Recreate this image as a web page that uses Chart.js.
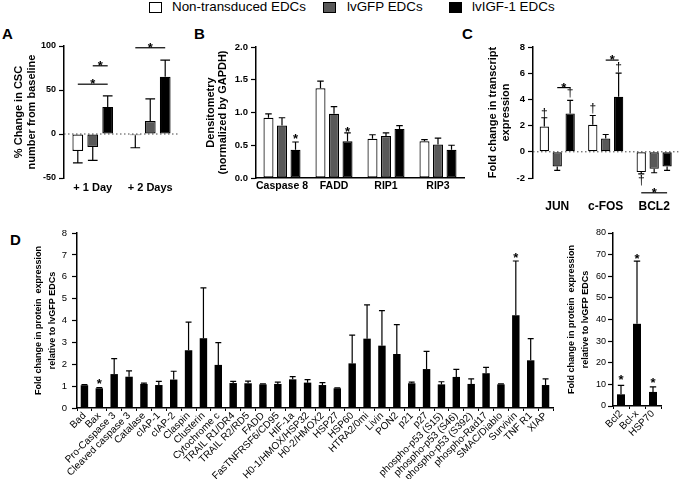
<!DOCTYPE html>
<html>
<head>
<meta charset="utf-8">
<script src="https://cdn.jsdelivr.net/npm/chart.js@4.4.0/dist/chart.umd.min.js"></script>
<style>
  body { margin: 0; background: #fff; }
  #fig { position: relative; width: 691px; height: 479px; overflow: hidden; font-family: "Liberation Sans", Arial, sans-serif; color: #000; }
  #fig canvas { position: absolute; }
  .sw { position: absolute; top: 2px; width: 11px; height: 9px; border: 1px solid #000; }
  .lt { position: absolute; top: 0; font-size: 13.4px; line-height: 14px; white-space: nowrap; }
  .letter { position: absolute; font-size: 15px; line-height: 15px; font-weight: bold; }
</style>
</head>
<body>
<div id="fig">
  <div class="sw" style="left:149px;background:#fff"></div><div class="lt" style="left:172px">Non-transduced EDCs</div>
  <div class="sw" style="left:323px;background:#595959"></div><div class="lt" style="left:347px">lvGFP EDCs</div>
  <div class="sw" style="left:449px;background:#000"></div><div class="lt" style="left:472px">lvIGF-1 EDCs</div>

  <div class="letter" style="left:2px;top:26px">A</div>
  <div class="letter" style="left:194px;top:26px">B</div>
  <div class="letter" style="left:462px;top:26px">C</div>
  <div class="letter" style="left:10px;top:232px">D</div>

  <canvas id="chartA" width="190" height="168" style="left:0;top:30px"></canvas>
  <canvas id="chartB" width="280" height="168" style="left:195px;top:30px"></canvas>
  <canvas id="chartC" width="221" height="190" style="left:470px;top:30px"></canvas>
  <canvas id="chartD" width="560" height="264" style="left:0;top:215px"></canvas>
  <canvas id="chartDR" width="131" height="264" style="left:560px;top:215px"></canvas>
</div>
<script>
// ---- A: % change in CSC number
const catsA = ['+ 1 Day', '+ 2 Days'];
const nonA = [-19.4, -1.5];
const nonAErr = [13.3, 14.1];
const gfpA = [-14.8, 14.8];
const gfpAErr = [15.2, 25.2];
const igfA = [30.8, 65];
const igfAErr = [12.5, 19];
const bracketsA = [[0, 0, 2, 0, 56.6], [1, 0, 2, 0, 77.5], [0, 1, 2, 1, 98]];

// ---- B: densitometry
const catsB = ['Caspase 8', 'FADD', 'RIP1', 'RIP3'];
const nonB = [0.92, 1.37, 0.60, 0.56];
const nonBErr = [0.06, 0.11, 0.06, 0.025];
const gfpB = [0.80, 0.98, 0.64, 0.51];
const gfpBErr = [0.12, 0.11, 0.05, 0.10];
const igfB = [0.43, 0.56, 0.75, 0.43];
const igfBErr = [0.12, 0.13, 0.05, 0.07];
const starsB = [[2, 0, 0.64], [2, 1, 0.75]];

// ---- C: transcript fold change
const catsC = ['JUN', 'c-FOS', 'BCL2'];
const nonC = [1.93, 2.06, -1.55];
const nonCErr = [0.67, 0.71, 0.13];
const gfpC = [-1.12, 1.02, -1.3];
const gfpCErr = [0.3, 0.3, 0.3];
const igfC = [2.93, 4.2, -1.12];
const igfCErr = [1.0, 1.8, 0.3];
const daggersC = [[0, 0, 2.9], [2, 0, 4.5], [0, 1, 3.35], [2, 1, 6.45], [0, 2, -2.2]];
const bracketsC = [[1, 0, 2, 0, 4.9], [1, 1, 2, 1, 7.0], [0, 2, 2, 2, -3.13]];

// ---- D: protein array
const catsD = ['Bad', 'Bax', 'Pro-Caspase 3', 'Cleaved caspase 3', 'Catalase', 'cIAP-1', 'cIAP-2', 'Claspin',
  'Clusterin', 'Cytochrome c', 'TRAIL R1/DR4', 'TRAIL R2/RD5', 'FADD', 'FasTNFRSF6/CD95', 'HIF-1a',
  'H0-1/HMOX/HSP32', 'H0-2/HMOX2', 'HSP27', 'HSP60', 'HTRA2/0mi', 'Livin', 'PON2', 'p21', 'p27',
  'phospho-p53 (S15)', 'phospho-p53 (S46)', 'phospho-p53 (S392)', 'phospho-Rad17', 'SMAC/Diablo',
  'Survivin', 'TNF R1', 'XIAP'];
const valsD = [1.04, 0.9, 1.55, 1.43, 1.1, 1.05, 1.3, 2.64, 3.19, 1.97, 1.14, 1.13, 1.08, 1.1, 1.31,
  1.16, 1.05, 0.9, 2.04, 3.17, 2.85, 2.47, 1.13, 1.78, 1.08, 1.42, 1.1, 1.59, 1.08, 4.24, 2.18, 1.05];
const errsD = [0.03, 0.03, 0.71, 0.27, 0.04, 0.17, 0.38, 1.29, 2.3, 1.02, 0.08, 0.1, 0.02, 0.08, 0.12,
  0.14, 0.11, 0.02, 1.29, 1.54, 1.6, 1.34, 0.05, 0.81, 0.12, 0.35, 0.23, 0.27, 0.02, 2.48, 0.99, 0.28];
const starsD = [[0, 1, 1.27], [0, 29, 7.0]];

const catsDR = ['Bcl2', 'Bcl-x', 'HSP70'];
const valsDR = [5.4, 38, 6.5];
const errsDR = [4.1, 29, 2.3];
const starsDR = [[0, 0, 13.4], [0, 1, 69.5], [0, 2, 12.2]];

const FONT = '"Liberation Sans", Arial, sans-serif';
Chart.defaults.font.family = FONT;
Chart.defaults.color = '#000';

// error bars, dotted zero line, stars / daggers and significance brackets
function extras(o) {
  return {
    id: 'extras',
    beforeDatasetsDraw(chart) {
      if (!o.zero) return;
      const ctx = chart.ctx, a = chart.chartArea;
      const py = chart.scales.y.getPixelForValue(0);
      ctx.save();
      ctx.strokeStyle = '#444';
      ctx.lineWidth = 1;
      ctx.setLineDash([1.5, 2.5]);
      ctx.beginPath();
      ctx.moveTo(a.left, py);
      ctx.lineTo(a.right, py);
      ctx.stroke();
      ctx.restore();
    },
    afterDatasetsDraw(chart) {
      const ctx = chart.ctx, y = chart.scales.y;
      const bar = (d, i) => chart.getDatasetMeta(d).data[i];
      ctx.save();
      ctx.strokeStyle = '#000';
      ctx.fillStyle = '#000';
      ctx.lineWidth = 1.2;
      chart.data.datasets.forEach((ds, d) => {
        if (!ds.errors) return;
        ds.data.forEach((v, i) => {
          const b = bar(d, i), e = ds.errors[i];
          const y0 = y.getPixelForValue(v);
          const y1 = y.getPixelForValue(v < 0 ? v - e : v + e);
          const h = b.width * o.cap / 2;
          ctx.beginPath();
          ctx.moveTo(b.x, y0);
          ctx.lineTo(b.x, y1);
          ctx.moveTo(b.x - h, y1);
          ctx.lineTo(b.x + h, y1);
          ctx.stroke();
        });
      });
      const s = o.starSize || 13;
      ctx.textAlign = 'center';
      ctx.textBaseline = 'alphabetic';
      (o.stars || []).forEach(([d, i, v]) => {
        ctx.font = 'bold ' + s + 'px ' + FONT;
        ctx.fillText('*', bar(d, i).x, y.getPixelForValue(v) + 0.57 * s);
      });
      (o.daggers || []).forEach(([d, i, v]) => {
        ctx.font = '12px ' + FONT;
        ctx.fillText('\u2020', bar(d, i).x, y.getPixelForValue(v) + 0.3 * 12);
      });
      (o.brackets || []).forEach(([d0, i0, d1, i1, v]) => {
        const x0 = bar(d0, i0).x, x1 = bar(d1, i1).x, py = y.getPixelForValue(v);
        ctx.beginPath();
        ctx.moveTo(x0, py);
        ctx.lineTo(x1, py);
        ctx.stroke();
        ctx.font = 'bold ' + s + 'px ' + FONT;
        ctx.fillText('*', (x0 + x1) / 2, py - 1.5 + 0.42 * s);
      });
      ctx.restore();
    }
  };
}

function groupSets(non, nonErr, gfp, gfpErr, igf, igfErr) {
  return [
    { label: 'Non-transduced EDCs', data: non, errors: nonErr, backgroundColor: '#fff', borderColor: '#000', borderWidth: 1.2, borderSkipped: false },
    { label: 'lvGFP EDCs', data: gfp, errors: gfpErr, backgroundColor: '#595959', borderColor: '#000', borderWidth: 1.2, borderSkipped: false },
    { label: 'lvIGF-1 EDCs', data: igf, errors: igfErr, backgroundColor: '#000', borderColor: '#000', borderWidth: 1.2, borderSkipped: false }
  ];
}

function yAxis(min, max, step, width, title, tFont, tPad, tickFont, tickPad, fmt) {
  return {
    min: min, max: max,
    ticks: { stepSize: step, font: tickFont, padding: tickPad, callback: fmt || (v => v) },
    grid: { drawOnChartArea: false, tickLength: 5, color: '#000', tickWidth: 1.2 },
    border: { color: '#000', width: 1.5 },
    title: { display: true, text: title, font: tFont, padding: { top: tPad, bottom: 0 } },
    afterFit: s => { s.width = width; }
  };
}

function xAxis(height, showLine, font, pad, rot) {
  return {
    grid: { display: false, drawTicks: false },
    border: { display: showLine, color: '#000', width: 1.5 },
    ticks: { font: font, padding: pad, autoSkip: false, minRotation: rot || 0, maxRotation: rot || 0 },
    afterFit: s => { s.height = height; }
  };
}

// x axis with small ticks between categories (panel D)
function xAxisTicked(height, font, pad) {
  const ax = xAxis(height, true, font, pad, 45);
  ax.grid = { display: true, drawOnChartArea: false, drawTicks: true, tickLength: 3, offset: true, color: '#000', tickWidth: 1 };
  return ax;
}

const noPlugins = { legend: { display: false }, tooltip: { enabled: false } };

new Chart(document.getElementById('chartA'), {
  type: 'bar',
  data: { labels: catsA, datasets: groupSets(nonA, nonAErr, gfpA, gfpAErr, igfA, igfAErr) },
  options: {
    responsive: false, animation: false,
    layout: { padding: { top: 16, left: 0, right: 11, bottom: 0 } },
    datasets: { bar: { categoryPercentage: 0.78, barPercentage: 0.72 } },
    plugins: noPlugins,
    scales: {
      x: xAxis(20, false, { size: 11, weight: 'bold' }, 3),
      y: yAxis(-50, 100, 50, 64, ['% Change in CSC', 'number from baseline'],
        { size: 11, weight: 'bold', lineHeight: 1.14 }, 12.7, { size: 9, weight: 'bold' }, 3)
    }
  },
  plugins: [extras({ zero: true, cap: 0.9, brackets: bracketsA })]
});

new Chart(document.getElementById('chartB'), {
  type: 'bar',
  data: { labels: catsB, datasets: groupSets(nonB, nonBErr, gfpB, gfpBErr, igfB, igfBErr) },
  options: {
    responsive: false, animation: false,
    layout: { padding: { top: 17, left: 0, right: 11, bottom: 0 } },
    datasets: { bar: { categoryPercentage: 0.78, barPercentage: 0.74 } },
    plugins: noPlugins,
    scales: {
      x: xAxis(20, true, { size: 10.5, weight: 'bold' }, 2),
      y: yAxis(0, 2, 0.5, 61, ['Densitometry', '(normalized by GAPDH)'],
        { size: 11, weight: 'bold', lineHeight: 1.1 }, 10, { size: 9.5, weight: 'bold' }, 3, v => v.toFixed(1))
    }
  },
  plugins: [extras({ cap: 0.65, stars: starsB })]
});

new Chart(document.getElementById('chartC'), {
  type: 'bar',
  data: { labels: catsC, datasets: groupSets(nonC, nonCErr, gfpC, gfpCErr, igfC, igfCErr) },
  options: {
    responsive: false, animation: false,
    layout: { padding: { top: 17, left: 0, right: 1, bottom: 0 } },
    datasets: { bar: { categoryPercentage: 0.8, barPercentage: 0.72 } },
    plugins: noPlugins,
    scales: {
      x: xAxis(42, false, { size: 12, weight: 'bold' }, 21),
      y: yAxis(-2, 8, 2, 63, ['Fold change in transcript', 'expression'],
        { size: 11, weight: 'bold', lineHeight: 1.27 }, 15.5, { size: 9.5, weight: 'bold' }, 3)
    }
  },
  plugins: [extras({ zero: true, cap: 0.65, daggers: daggersC, brackets: bracketsC })]
});

new Chart(document.getElementById('chartD'), {
  type: 'bar',
  data: { labels: catsD, datasets: [{ data: valsD, errors: errsD, backgroundColor: '#000', borderWidth: 0 }] },
  options: {
    responsive: false, animation: false,
    layout: { padding: { top: 18, left: 0, right: 7, bottom: 0 } },
    datasets: { bar: { categoryPercentage: 1, barPercentage: 0.5 } },
    plugins: noPlugins,
    scales: {
      x: xAxisTicked(71, { size: 10 }, -1),
      y: yAxis(0, 8, 1, 77, ['Fold change in protein  expression', 'relative to lvGFP EDCs'],
        { size: 9, weight: 'bold', lineHeight: 1.5 }, 32, { size: 9.5 }, 5)
    }
  },
  plugins: [extras({ cap: 0.8, stars: starsD })]
});

new Chart(document.getElementById('chartDR'), {
  type: 'bar',
  data: { labels: catsDR, datasets: [{ data: valsDR, errors: errsDR, backgroundColor: '#000', borderWidth: 0 }] },
  options: {
    responsive: false, animation: false,
    layout: { padding: { top: 18, left: 0, right: 30, bottom: 0 } },
    datasets: { bar: { categoryPercentage: 1, barPercentage: 0.5 } },
    plugins: noPlugins,
    scales: {
      x: xAxisTicked(73, { size: 10 }, -1),
      y: yAxis(0, 80, 10, 53, ['Fold change in protein  expression', 'relative to lvGFP EDCs'],
        { size: 9, weight: 'bold', lineHeight: 1.5 }, 5, { size: 9 }, 2)
    }
  },
  plugins: [extras({ cap: 0.8, stars: starsDR })]
});
</script>
</body>
</html>
